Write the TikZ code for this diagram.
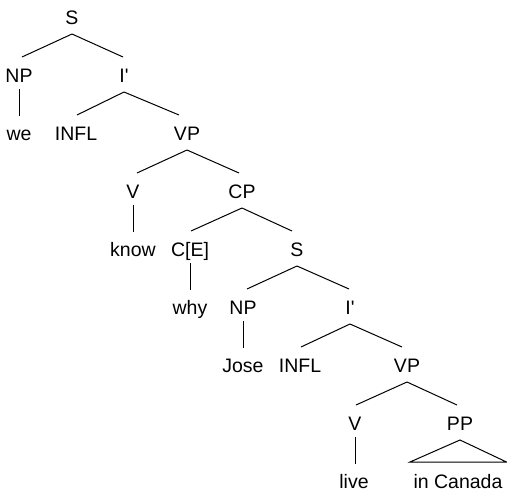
\documentclass[tikz,border=0pt]{standalone}
\usepackage{fontspec}
\setmainfont{Liberation Sans}
\usetikzlibrary{calc}
\newcommand\tbranch[3]{\draw[treeline] ($(#1.base)+(0,10)$) -- ($(#2.base)+(#3,-25)$);}
\newcommand\tunary[2]{\draw[treeline] ($(#1.base)+(0,7)$) -- ($(#1.base |- #2.base)+(0,-24)$);}
\begin{document}
\begin{tikzpicture}[x=1pt,y=-1pt,
  lab/.style={anchor=base,inner sep=0pt,font=\fontsize{19.5}{23}\selectfont},
  treeline/.style={line width=1pt,black}]
\useasboundingbox (0,0) rectangle (507,493);
% labels
\node[lab] (s0) at (72,24) {S};
\node[lab] (np1) at (19,82) {NP};
\node[lab] (ib1) at (124,82) {I\textquotesingle};
\node[lab] (we) at (19,140) {we};
\node[lab] (infl1) at (76,140) {INFL};
\node[lab] (vp1) at (187,140) {VP};
\node[lab] (v1) at (133,198) {V};
\node[lab] (cp) at (242,198) {CP};
\node[lab] (know) at (133,256) {know};
\node[lab] (ce) at (190,256) {C[E]};
\node[lab] (s1) at (297,256) {S};
\node[lab] (why) at (190,314) {why};
\node[lab] (np2) at (243,314) {NP};
\node[lab] (ib2) at (350,314) {I\textquotesingle};
\node[lab] (jose) at (243,372) {Jose};
\node[lab] (infl2) at (300,372) {INFL};
\node[lab] (vp2) at (407,372) {VP};
\node[lab] (v2) at (355,430) {V};
\node[lab] (pp) at (460,430) {PP};
\node[lab] (live) at (354,488) {live};
\node[lab] (inc) at (458,488) {in Canada};
% branches
\tbranch{s0}{np1}{3}
\tbranch{s0}{ib1}{-1}
\tunary{np1}{we}
\tbranch{ib1}{infl1}{1}
\tbranch{ib1}{vp1}{-8}
\tbranch{vp1}{v1}{4}
\tbranch{vp1}{cp}{-3}
\tunary{v1}{know}
\tbranch{cp}{ce}{1}
\tbranch{cp}{s1}{-5}
\tunary{ce}{why}
\tbranch{s1}{np2}{4}
\tbranch{s1}{ib2}{-1}
\tunary{np2}{jose}
\tbranch{ib2}{infl2}{1}
\tbranch{ib2}{vp2}{-5}
\tbranch{vp2}{v2}{1}
\tbranch{vp2}{pp}{-3}
\tunary{v2}{live}
\draw[treeline,line join=miter] ($(pp.base)+(0,10)$) -- ($(inc.base)+(-48,-26)$) -- ($(inc.base)+(48.5,-26)$) -- cycle;
\end{tikzpicture}
\end{document}
